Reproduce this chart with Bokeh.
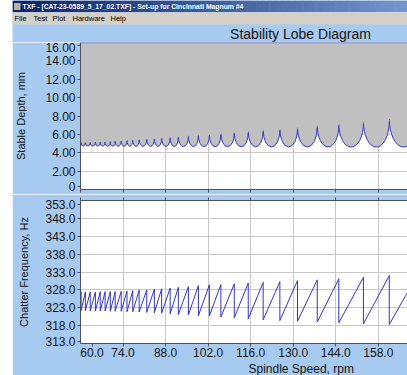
import numpy as np
from bokeh.plotting import figure
from bokeh.layouts import column, row
from bokeh.models import (FixedTicker, Range1d, Span, Title, LinearAxis, Spacer)
from bokeh.embed import file_html
from bokeh.resources import INLINE
from bokeh.core.properties import value

# ---------------- data ----------------
window_title = "TXF - [CAT-23-0589_5_17_02.TXF] - Set-up for Cincinnati Magnum #4"
menu_items = ["File", "Test", "Plot", "Hardware", "Help"]
menu_x = [2, 21, 40, 60, 98]
chart_title = "Stability Lobe Diagram"
x_label = "Spindle Speed, rpm"
depth_label = "Stable Depth, mm"
freq_label = "Chatter Frequency, Hz"

speed_ticks = [60, 74, 88, 102, 116, 130, 144, 158, 172]
depth_ticks = [0, 2, 4, 6, 8, 10, 12, 14, 16]
freq_ticks = [313, 318, 323, 328, 333, 338, 343, 348, 353]

# speeds (rpm) of the cusps between lobes
cusp_speed = [58.8, 60.2, 61.6, 63.2, 64.9, 66.5, 68.1, 69.8, 71.4, 73.4,
              75.3, 77.2, 79.3, 81.8, 84.3, 86.7, 89.5, 92.2, 95.5, 98.8,
              102.4, 106.2, 110.6, 115.2, 120.1, 125.6, 131.4, 137.9, 145.0,
              153.1, 161.6, 171.0]
# stable depth at each cusp (mm)
cusp_depth = [5.08, 5.10, 5.11, 5.15, 5.15, 5.18, 5.18, 5.22, 5.26, 5.29,
              5.33, 5.37, 5.40, 5.48, 5.51, 5.59, 5.66, 5.70, 5.81, 5.88,
              5.92, 6.03, 6.14, 6.24, 6.39, 6.50, 6.61, 6.86, 7.05, 7.23,
              7.52, 7.85]
# minimum stable depth of each lobe (mm), lobe i lies between cusp i and i+1
lobe_min_depth = [4.74, 4.74, 4.74, 4.73, 4.73, 4.73, 4.72, 4.72, 4.72, 4.71,
                  4.71, 4.70, 4.70, 4.70, 4.69, 4.69, 4.68, 4.68, 4.67, 4.67,
                  4.66, 4.66, 4.65, 4.65, 4.64, 4.64, 4.63, 4.63, 4.62, 4.62,
                  4.62]
# chatter frequency just before (high) and just after (low) each cusp (Hz)
freq_high = [327.4, 327.4, 327.4, 327.4, 327.4, 327.5, 327.5, 327.5, 327.5,
             327.6, 327.7, 327.8, 327.9, 328.0, 328.2, 328.3, 328.5, 328.7,
             328.9, 329.2, 329.4, 329.5, 329.7, 329.9, 330.1, 330.3, 330.6,
             330.8, 331.1, 331.5, 332.0, 332.4]
freq_low = [322.2, 322.2, 322.2, 322.1, 322.1, 322.1, 322.1, 322.0, 322.0,
            322.0, 321.9, 321.9, 321.8, 321.7, 321.6, 321.5, 321.3, 321.1,
            321.0, 320.8, 320.7, 320.4, 320.2, 319.9, 319.6, 319.4, 319.2,
            319.0, 318.8, 318.5, 318.3, 318.1]

# ---------------- style ----------------
BG = "#A6CAF0"
GRAY = "#C0C0C0"
LOBE = "#3434C8"
AXIS = "#4A525C"
GRID = "#C8C8C8"
TXT = "#141414"
FONT = "Liberation Sans"
W = 395
LEFT = 67


def edge_labels(ticks, fmt, lo_shift, hi_shift):
    """Tick positions for the axis labels; the end labels are pulled inside the frame."""
    pos = list(ticks)
    pos[0] = ticks[0] + lo_shift
    pos[-1] = ticks[-1] - hi_shift
    labels = {p: fmt(t) for p, t in zip(pos, ticks)}
    return pos, labels


# ---------------- header (window chrome + chart title) ----------------
HH = 42
h = figure(width=W, height=HH, frame_width=W, frame_height=HH,
           x_range=Range1d(0, W), y_range=Range1d(HH, 0),
           title=None, toolbar_location=None, output_backend="svg",
           min_border=0, min_border_left=0, min_border_right=0,
           min_border_top=0, min_border_bottom=0)
h.frame_align = False
h.axis.visible = False
h.grid.visible = False
h.outline_line_color = None
h.background_fill_color = BG
h.border_fill_color = BG
n = 60
c0 = np.array([10, 36, 106])
c1 = np.array([118, 148, 204])
cols = ["#%02x%02x%02x" % tuple((c0 + (c1 - c0) * k / (n - 1)).astype(int)) for k in range(n)]
edges = np.linspace(0, W, n + 1)
h.quad(left=edges[:-1], right=edges[1:] + 0.5, bottom=12, top=0, fill_color=cols, line_color=None)
h.quad(left=[0], right=[W], bottom=[24], top=[12], fill_color="#D4D0C8", line_color=None)
h.quad(left=[0], right=[W], bottom=[12.6], top=[12], fill_color="#F0EEEA", line_color=None)
h.quad(left=[1.5], right=[8], bottom=[9.5], top=[2.5], fill_color="#B8B0A0", line_color=None)
h.text(x=[10], y=[6.2], text=[window_title], text_color="white", text_font=value(FONT),
       text_font_size="6.8px", text_font_style="bold", text_baseline="middle")
h.text(x=menu_x, y=[18.4] * len(menu_items), text=menu_items, text_color="black",
       text_font=value(FONT), text_font_size="7.5px", text_baseline="middle")
h.text(x=[288], y=[33], text=[chart_title], text_color=TXT, text_font=value(FONT),
       text_font_size="14px", text_align="center", text_baseline="middle")


def style_axis(ax, size="12px"):
    ax.axis_line_color = AXIS
    ax.major_tick_line_color = AXIS
    ax.major_tick_out = 3
    ax.major_tick_in = 0
    ax.minor_tick_line_color = None
    ax.major_label_text_font = FONT
    ax.major_label_text_font_size = size
    ax.major_label_text_color = TXT
    ax.axis_label_text_font = FONT
    ax.axis_label_text_font_size = "11px"
    ax.axis_label_text_font_style = "normal"
    ax.axis_label_text_color = TXT


def hide_labels(ax):
    ax.major_label_text_font_size = "1px"
    ax.major_label_text_color = None
    ax.major_label_standoff = 0


# ---------------- top: stability lobes ----------------
xr = Range1d(60, 167.6)
p1 = figure(width=W, height=152, x_range=xr, y_range=Range1d(0, 16), title=None,
            toolbar_location=None, output_backend="svg",
            min_border_left=LEFT, min_border_right=0, min_border_top=0, min_border_bottom=5)
p1.background_fill_color = "white"
p1.border_fill_color = BG
p1.outline_line_color = None
p1.grid.grid_line_color = GRID
p1.xgrid.ticker = FixedTicker(ticks=speed_ticks)
p1.ygrid.ticker = FixedTicker(ticks=depth_ticks)

cs = np.array(cusp_speed)
cd = np.array(cusp_depth)
lm = np.array(lobe_min_depth)
lo, hi = cs[:-1], cs[1:]
level = (cd[:-1] + cd[1:]) / 2
p1.ellipse(x=(lo + hi) / 2, y=level, width=hi - lo, height=2 * (level - lm),
           fill_color=GRAY, line_color=LOBE, line_width=1)
step_x = np.repeat(cs, 2)[1:-1]
step_y = np.repeat(level, 2)
p1.varea(x=step_x, y1=step_y, y2=16, fill_color=GRAY)
p1.add_layout(Span(location=16, dimension="width", line_color="#5566C8", line_width=1.5))

style_axis(p1.yaxis[0])
dpos, dlab = edge_labels(depth_ticks, lambda t: "0" if t == 0 else "%.2f" % t, 0.36, 0.38)
p1.yaxis.ticker = FixedTicker(ticks=dpos)
p1.yaxis.major_label_overrides = dlab
p1.yaxis.major_label_standoff = 2
p1.yaxis.axis_label = depth_label
p1.yaxis.axis_label_standoff = 15
style_axis(p1.xaxis[0])
p1.xaxis.ticker = FixedTicker(ticks=speed_ticks)
hide_labels(p1.xaxis[0])

# ---------------- bottom: chatter frequency ----------------
p2 = figure(width=W, height=181, x_range=xr, y_range=Range1d(313, 353), title=None,
            toolbar_location=None, output_backend="svg",
            min_border_left=LEFT, min_border_right=0, min_border_top=6, min_border_bottom=32)
p2.background_fill_color = "white"
p2.border_fill_color = BG
p2.outline_line_color = None
p2.grid.grid_line_color = GRID
p2.xgrid.ticker = FixedTicker(ticks=speed_ticks)
p2.ygrid.ticker = FixedTicker(ticks=freq_ticks)

saw_x = np.repeat(cs, 2)
saw_y = np.column_stack([freq_high, freq_low]).ravel()
p2.line(x=saw_x, y=saw_y, line_color=LOBE, line_width=1)

style_axis(p2.yaxis[0])
fpos, flab = edge_labels(freq_ticks, lambda t: "%.1f" % t, 0.5, 1.1)
p2.yaxis.ticker = FixedTicker(ticks=fpos)
p2.yaxis.major_label_overrides = flab
p2.yaxis.major_label_standoff = 2
p2.yaxis.axis_label = freq_label
p2.yaxis.axis_label_standoff = 12
style_axis(p2.xaxis[0])
spos, slab = edge_labels(speed_ticks, lambda t: "%.1f" % t, 3.8, 0)
p2.xaxis.ticker = FixedTicker(ticks=spos)
p2.xaxis.major_label_overrides = slab
p2.xaxis.major_label_standoff = 1
top_ax = LinearAxis(ticker=FixedTicker(ticks=speed_ticks))
style_axis(top_ax)
hide_labels(top_ax)
p2.add_layout(top_ax, "above")
p2.add_layout(Title(text=x_label, align="left", offset=168, standoff=0,
                    text_font=FONT, text_font_size="12px", text_font_style="normal",
                    text_color=TXT), "below")

layout = row(Spacer(width=12, height=375), column(h, p1, p2, spacing=0), spacing=0)
open("out.html", "w").write(file_html(layout, INLINE))
